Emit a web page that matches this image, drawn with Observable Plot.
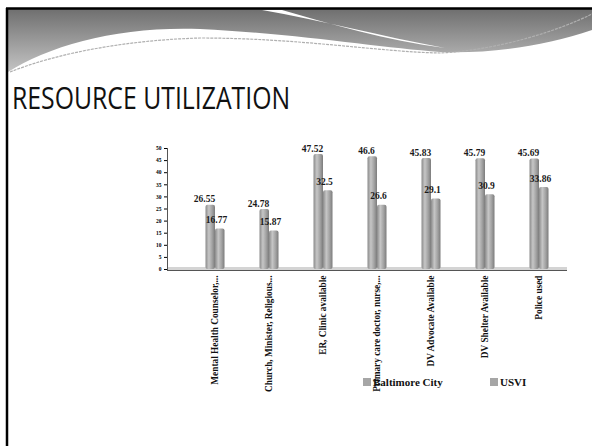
<!DOCTYPE html>
<html><head><meta charset="utf-8">
<script src="https://cdn.jsdelivr.net/npm/d3@7"></script>
<script src="https://cdn.jsdelivr.net/npm/@observablehq/plot@0.6"></script>
<style>
html,body{margin:0;padding:0;background:#fff;width:592px;height:446px;overflow:hidden;}
#slide{position:relative;width:592px;height:446px;}
#bg{position:absolute;left:0;top:0;}
#title{position:absolute;left:12px;top:76px;font-family:"Open Sans",sans-serif;font-size:31px;color:#111;white-space:nowrap;transform:scaleX(0.8);transform-origin:left top;letter-spacing:0px;}
#chart{position:absolute;left:0;top:135px;}
#legend{position:absolute;top:376px;left:0;font-family:"Liberation Serif",serif;font-weight:bold;font-size:11px;color:#111;}
.lg{position:absolute;white-space:nowrap;display:flex;align-items:center;}
.sw{display:inline-block;width:8px;height:8px;background:#a6a6a6;margin-right:2px;}
</style></head>
<body>
<div id="slide">
<svg id="bg" width="592" height="446">
  <defs>
    <linearGradient id="hdr" x1="0" y1="0" x2="0" y2="1">
      <stop offset="0" stop-color="#6f6f6f"/>
      <stop offset="1" stop-color="#c4c4c4"/>
    </linearGradient>
  </defs>
  <path d="M8,9 L592,9 L592,30 C545,46 490,54 440,52 C380,48 300,34 200,29 C120,26 50,45 8,72 Z" fill="url(#hdr)"/>
  <path d="M262,10 C320,20 380,36 445,48 C385,40 330,24 282,10 Z" fill="#fff"/>
  <path d="M10,72 C60,52 130,40 200,38 C300,38 380,52 440,53 C500,50 560,30 592,14" fill="none" stroke="#b0b0b0" stroke-width="1.2" stroke-dasharray="3,1"/>
  <line x1="7" y1="8" x2="7" y2="446" stroke="#000" stroke-width="2.5"/>
  <line x1="6" y1="8.5" x2="592" y2="8.5" stroke="#000" stroke-width="2.5"/>
</svg>
<div id="title">RESOURCE UTILIZATION</div>
<div id="chart"></div>
<div id="legend"></div>
</div>
<script>
const categories = ["Mental Health Counselor,...","Church, Minister, Religious...","ER, Clinic available","Primary care doctor, nurse,...","DV Advocate Available","DV Shelter Available","Police used"];
const seriesNames = ["Baltimore City","USVI"];
const baltimore = [26.55, 24.78, 47.52, 46.6, 45.83, 45.79, 45.69];
const usvi = [16.77, 15.87, 32.5, 26.6, 29.1, 30.9, 33.86];
const yTicks = [0,5,10,15,20,25,30,35,40,45,50];

const dataB = categories.map((c,i)=>({cat:c, value:baltimore[i]}));
const dataU = categories.map((c,i)=>({cat:c, value:usvi[i]}));

const W = 592, H = 270;
const plot = Plot.plot({
  width: W, height: H,
  marginLeft: 167, marginRight: 25, marginTop: 13, marginBottom: 136,
  style: {background:"transparent", overflow:"visible"},
  x: {domain: categories, paddingInner: 0.63, paddingOuter: 0.486, align: 0.68, label: null},
  y: {domain: [0,50], label: null},
  marks: [
    Plot.ruleY([0], {stroke:"#d4d4d4", strokeWidth:3, dy:-1}),
    Plot.ruleY([0], {stroke:"#555", strokeWidth:1, dy:1}),
    Plot.frame({anchor:"left", stroke:"#555"}),
    Plot.axisY({ticks: yTicks, tickSize: 3, tickPadding: 3, fontSize: 5.5, fontWeight:"bold", fontFamily:"Liberation Serif", label:null}),
    Plot.axisX({tickSize: 0, tickRotate: -90, tickPadding: 6, fontSize: 9.3, fontWeight:"bold", fontFamily:"Liberation Serif", label:null, fill:"#111"}),
    Plot.barY(dataB, {x:"cat", y:"value", fill:"url(#cyl)", insetRight: 10, insetLeft: 0.5, rx: 2}),
    Plot.barY(dataU, {x:"cat", y:"value", fill:"url(#cyl)", insetLeft: 10, insetRight: 0.5, rx: 2}),
    Plot.text(dataB, {x:"cat", y:"value", text: d=>String(d.value), dx:-11, dy:-6, fontSize:9.5, fontWeight:"bold", fontFamily:"Liberation Serif", fill:"#1a1a1a"}),
    Plot.text(dataU, {x:"cat", y:"value", text: d=>String(d.value), dx:1, dy:-9, fontSize:9.5, fontWeight:"bold", fontFamily:"Liberation Serif", fill:"#1a1a1a"})
  ]
});
const defs = d3.select(plot).insert("defs", ":first-child");
const g = defs.append("linearGradient").attr("id","cyl").attr("x1",0).attr("x2",1).attr("y1",0).attr("y2",0);
[[0,"#8a8a8a"],[0.35,"#c6c6c6"],[0.7,"#a2a2a2"],[1,"#7c7c7c"]].forEach(([o,c])=>g.append("stop").attr("offset",o).attr("stop-color",c));
document.getElementById("chart").appendChild(plot);

const legend = document.getElementById("legend");
const lx = [363, 490];
seriesNames.forEach((n,i)=>{
  const d = document.createElement("div");
  d.className="lg"; d.style.left = lx[i]+"px";
  d.innerHTML = '<span class="sw"></span>'+n;
  legend.appendChild(d);
});
</script>
</body></html>
